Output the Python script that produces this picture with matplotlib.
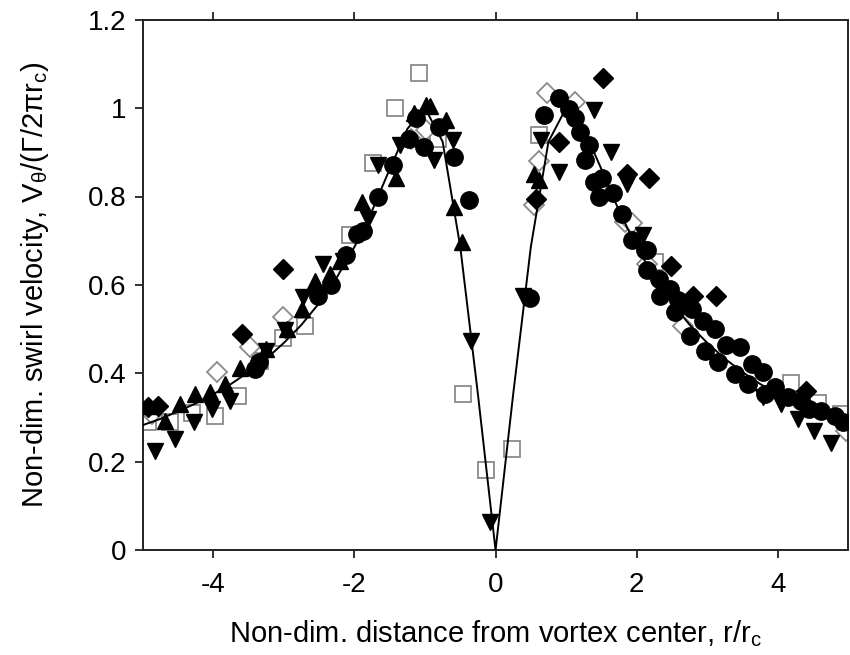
import matplotlib
matplotlib.use("Agg")
import matplotlib.pyplot as plt

plt.rcParams['font.family'] = ['Liberation Sans', 'DejaVu Sans']
plt.rcParams['mathtext.fontset'] = 'custom'
plt.rcParams['mathtext.rm'] = 'Liberation Sans'
plt.rcParams['mathtext.it'] = 'Liberation Sans:italic'
plt.rcParams['axes.unicode_minus'] = False

# ---- data ----
circ_x = [-3.41, -3.36, -2.52, -2.33, -2.12, -1.97, -1.88, -1.67, -1.46, -1.22, -1.13, -1.01, -0.80, -0.59, -0.37,
          0.49, 0.69, 0.90, 1.04, 1.13, 1.20, 1.32, 1.27, 1.39, 1.51, 1.46, 1.67, 1.79, 1.93, 2.12, 2.14, 2.14,
          2.31, 2.47, 2.33, 2.59, 2.54, 2.78, 2.94, 3.11, 2.76, 2.97, 3.27, 3.46, 3.16, 3.39, 3.63, 3.58, 3.79,
          3.96, 3.82, 4.15, 4.33, 4.45, 4.62, 4.81, 4.92]
circ_y = [0.410, 0.425, 0.576, 0.599, 0.667, 0.716, 0.723, 0.799, 0.871, 0.931, 0.977, 0.912, 0.958, 0.890, 0.791,
          0.571, 0.984, 1.022, 0.999, 0.977, 0.946, 0.916, 0.882, 0.833, 0.841, 0.799, 0.807, 0.761, 0.701, 0.678, 0.678, 0.633,
          0.614, 0.591, 0.576, 0.565, 0.538, 0.546, 0.519, 0.500, 0.485, 0.451, 0.463, 0.459, 0.425, 0.398, 0.421, 0.376, 0.402,
          0.368, 0.353, 0.346, 0.338, 0.319, 0.315, 0.304, 0.289]

fdia_x = [-4.92, -4.78, -3.60, -3.01, 0.57, 0.90, 1.53, 1.86, 2.17, 2.48, 2.80, 3.13, 4.40]
fdia_y = [0.323, 0.327, 0.489, 0.636, 0.795, 0.924, 1.067, 0.852, 0.841, 0.642, 0.576, 0.576, 0.361]

odia_x = [-4.87, -3.95, -3.48, -3.01, -0.99, -1.20, 0.54, 0.61, 0.73, 1.13, 1.84, 1.93, 2.14, 2.66, 4.97]
odia_y = [0.307, 0.402, 0.459, 0.527, 0.950, 0.930, 0.780, 0.880, 1.033, 1.014, 0.742, 0.739, 0.648, 0.508, 0.270]

sq_x = [-4.92, -4.61, -4.30, -3.98, -3.65, -3.34, -3.01, -2.70, -2.07, -1.74, -1.42, -1.09, -0.82, -0.46, -0.13,
        0.23, 0.61, 2.26, 4.19, 4.57, 4.90]
sq_y = [0.289, 0.289, 0.311, 0.304, 0.349, 0.429, 0.481, 0.508, 0.712, 0.875, 1.001, 1.080, 0.929, 0.353, 0.181,
        0.230, 0.939, 0.651, 0.379, 0.334, 0.308]

up_x = [-4.92, -4.68, -4.47, -4.26, -4.05, -3.83, -3.62, -3.25, -2.96, -2.75, -2.56, -2.35, -2.21, -1.90, -1.41,
        -1.15, -0.99, -0.93, -0.70, -0.59, -0.47, 0.54, 0.61]
up_y = [0.327, 0.293, 0.330, 0.353, 0.357, 0.376, 0.413, 0.455, 0.500, 0.546, 0.610, 0.625, 0.655, 0.788, 0.841,
        0.988, 1.007, 1.005, 0.973, 0.776, 0.697, 0.852, 0.837]

dn_x = [-4.82, -4.54, -4.28, -4.02, -3.76, -3.25, -2.99, -2.73, -2.45, -2.16, -1.81, -1.67, -1.36, -0.87, -0.61,
        -0.35, -0.08, 0.39, 0.64, 0.90, 1.39, 1.63, 1.86, 2.09, 3.79, 4.05, 4.29, 4.52, 4.76]
dn_y = [0.224, 0.251, 0.289, 0.319, 0.338, 0.451, 0.497, 0.572, 0.648, 0.655, 0.750, 0.871, 0.916, 0.882, 0.927,
        0.474, 0.064, 0.576, 0.927, 0.856, 0.995, 0.901, 0.829, 0.714, 0.346, 0.330, 0.296, 0.270, 0.243]

line_x = [-5.0, -4.75, -4.5, -4.25, -4.0, -3.75, -3.5, -3.25, -3.0, -2.75, -2.5, -2.25, -2.0, -1.75, -1.5, -1.25,
          -1.0, -0.75, -0.5, -0.25, 0.0, 0.25, 0.5, 0.75, 1.0, 1.25, 1.5, 1.75, 2.0, 2.25, 2.5, 2.75, 3.0, 3.25,
          3.5, 3.75, 4.0, 4.25, 4.5, 4.75, 5.0]
line_y = [0.283, 0.297, 0.314, 0.332, 0.353, 0.376, 0.403, 0.433, 0.469, 0.510, 0.559, 0.617, 0.686, 0.768, 0.862, 0.953,
          1.000, 0.924, 0.686, 0.353, 0.0, 0.353, 0.686, 0.924, 1.000, 0.953, 0.862, 0.768, 0.686, 0.617, 0.559, 0.510, 0.469, 0.433,
          0.403, 0.376, 0.353, 0.332, 0.314, 0.297, 0.283]

xticks = [-4, -2, 0, 2, 4]
xticklabels = ['-4', '-2', '0', '2', '4']
yticks = [0, 0.2, 0.4, 0.6, 0.8, 1.0, 1.2]
yticklabels = ['0', '0.2', '0.4', '0.6', '0.8', '1', '1.2']

fig = plt.figure(figsize=(8.5, 6.55), dpi=100)
ax = fig.add_axes([0.168, 0.160, 0.830, 0.810])

gray = '#8a8a8a'
ax.plot(sq_x, sq_y, ls='none', marker='s', ms=12, mfc='white', mec=gray, mew=1.3, zorder=2)
ax.plot(odia_x, odia_y, ls='none', marker='D', ms=10, mfc='white', mec=gray, mew=1.3, zorder=2)
ax.plot(up_x, up_y, ls='none', marker='^', ms=12, color='black', zorder=3)
ax.plot(dn_x, dn_y, ls='none', marker='v', ms=12, color='black', zorder=3)
ax.plot(fdia_x, fdia_y, ls='none', marker='D', ms=10, color='black', zorder=3)
ax.plot(circ_x, circ_y, ls='none', marker='o', ms=12.5, color='black', zorder=3)
ax.plot(line_x, line_y, color='black', lw=1.4, zorder=4)

ax.set_xlim(-5, 5)
ax.set_ylim(0, 1.2)
ax.set_xticks(xticks)
ax.set_xticklabels(xticklabels)
ax.set_yticks(yticks)
ax.set_yticklabels(yticklabels)
ax.tick_params(axis='x', direction='out', top=True, bottom=True, length=6, width=1.3, labelsize=20, pad=10, color='#222222')
ax.tick_params(axis='y', direction='out', left=True, right=False, length=6, width=1.3, labelsize=20, pad=6, color='#222222')
for s in ax.spines.values():
    s.set_linewidth(1.4)
    s.set_color('#222222')

ax.set_xlabel('Non-dim. distance from vortex center, r/r$_\\mathrm{c}$', fontsize=21, labelpad=14)
ax.set_ylabel('Non-dim. swirl velocity, V$_\\mathrm{\\theta}$/($\\mathrm{\\Gamma}$/2$\\mathrm{\\pi}$r$_\\mathrm{c}$)', fontsize=21, labelpad=26)

fig.savefig('out.png', dpi=100)
